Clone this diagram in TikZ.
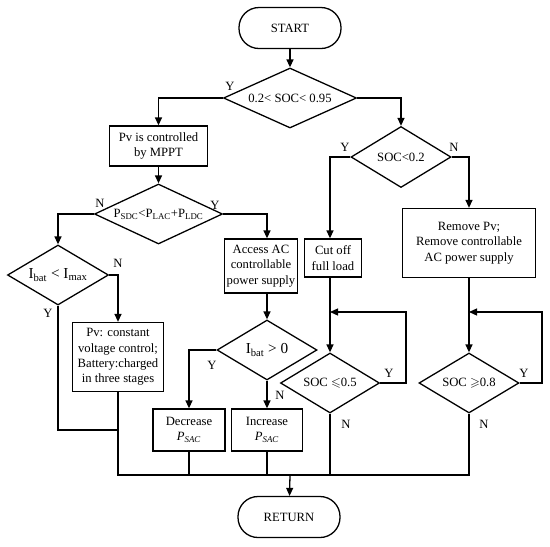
\documentclass[tikz,border=0pt]{standalone}
\usepackage{amssymb}
\usepackage{fontspec}
\setmainfont{Liberation Serif}
\usepackage{tikz}
\usetikzlibrary{shapes.geometric,arrows.meta}
\newcommand{\ctr}[1]{\makebox[0pt]{#1}}

\begin{document}
\begin{tikzpicture}[x=0.03cm,y=-0.03cm,line width=1.1pt,
  font=\fontsize{10.8}{13.2}\selectfont,
  term/.style={draw,rounded corners=0.6cm,minimum width=3.06cm,minimum height=1.23cm},
  box/.style={draw,align=center,inner sep=1pt},
  dec/.style={draw,diamond,inner sep=0pt,minimum width=3cm,minimum height=1.8cm},
  big/.style={font=\fontsize{13}{15}\selectfont},
  arr/.style={-{Triangle[length=2.4mm,width=2.1mm]}},
  lab/.style={inner sep=0pt}]
\useasboundingbox (0,0) rectangle (550,546);
%开始
\node[term] (start) at (290,28) {START};
\node[dec,minimum width=3.99cm] (d1) at (290,98) {\ctr{0.2< SOC< 0.95}};
%左支
\node[box,minimum width=2.94cm,minimum height=1.2cm] (pv) at (158.5,146) {Pv is controlled\\by MPPT};
\node[dec,minimum width=3.84cm] (d3) at (158.5,214) {\ctr{P\textsubscript{SDC}<P\textsubscript{LAC}+P\textsubscript{LDC}}};
\node[dec,big,minimum width=3.03cm] (d4) at (58,275) {\ctr{I\textsubscript{bat} < I\textsubscript{max}}};
\node[box,minimum width=2.73cm,minimum height=2.07cm] (pvc) at (118,357) {Pv: constant\\voltage control;\\Battery:charged\\in three stages};
\node[box,minimum width=2.19cm,minimum height=1.62cm] (acc) at (261,266) {Access AC\\controllable\\power supply};
\node[dec,big] (d5) at (267,350) {\ctr{I\textsubscript{bat} > 0}};
\node[box,minimum width=2.16cm,minimum height=1.26cm] (dec) at (189,430) {Decrease\\\textit{P}\textsubscript{\textit{SAC}}};
\node[box,minimum width=2.13cm,minimum height=1.26cm] (inc) at (267,430) {Increase\\\textit{P}\textsubscript{\textit{SAC}}};
%右支
\node[dec,minimum height=1.83cm] (d2) at (401,157) {\ctr{SOC<0.2}};
\node[box,minimum width=1.71cm,minimum height=1.14cm] (cut) at (333,258) {Cut off\\full load};
\node[dec,minimum width=2.97cm] (d6) at (330,383) {\ctr{SOC $\leqslant$0.5}};
\node[box,minimum width=3.99cm,minimum height=2.07cm] (rem) at (469,243) {Remove Pv;\\Remove controllable\\AC power supply};
\node[dec] (d7) at (469,383) {\ctr{SOC $\geqslant$0.8}};
%结束
\node[term] (ret) at (289,517) {RETURN};

%标注
\node[lab] (y1) at (230,86) {Y};
\node[lab] (y2) at (345,147) {Y};
\node[lab] (n2) at (454,147) {N};
\node[lab] (n3) at (100,203) {N};
\node[lab] (y3) at (215,205) {Y};
\node[lab] (n4) at (118,263) {N};
\node[lab] (y4) at (48,313) {Y};
\node[lab] (y5) at (212,365) {Y};
\node[lab] (n5) at (280,395) {N};
\node[lab] (y6) at (389,373) {Y};
\node[lab] (n6) at (346,424) {N};
\node[lab] (y7) at (524,373) {Y};
\node[lab] (n7) at (484,424) {N};

%辅助点
\coordinate (la) at (406,312);
\coordinate (lb) at (542,312);
\coordinate (j1) at (118,430);
\coordinate (bl) at (118,475);
\coordinate (br) at (469,475);
\coordinate (bm) at (290,475);

%连线
\draw[arr] (start)--(d1);
\draw[arr] (d1.west) -| (pv.north);
\draw[arr] (d1.east) -| (d2.north);

\draw[arr] (pv)--(d3);
\draw[arr] (d3.west) -| (d4.north);
\draw[arr] (d3.east) -| (d5 |- acc.north);
\draw[arr] (d5 |- acc.south)--(d5.north);
\draw[arr] (d4.east) -| (pvc.north);
\draw[arr] (d5.west) -| (dec.north);
\draw[arr] (d5.south)--(inc.north);

\draw[arr] (d2.west) -| (d6 |- cut.north);
\draw[arr] (d2.east) -| (rem.north);
\draw[arr] (d6 |- cut.south)--(d6.north);
\draw[arr] (rem)--(d7);
\draw[arr] (d6.east) -| (la)--(d6 |- la);
\draw[arr] (d7.east) -| (lb)--(d7 |- lb);

\draw (d4.south) |- (j1);
\draw (pvc.south)--(bl)--(br)--(d7.south);
\draw (dec.south)--(dec |- bl);
\draw (inc.south)--(inc |- bl);
\draw (d6.south)--(d6 |- bl);
\draw[arr] (bm)--(ret);
\end{tikzpicture}
\end{document}
